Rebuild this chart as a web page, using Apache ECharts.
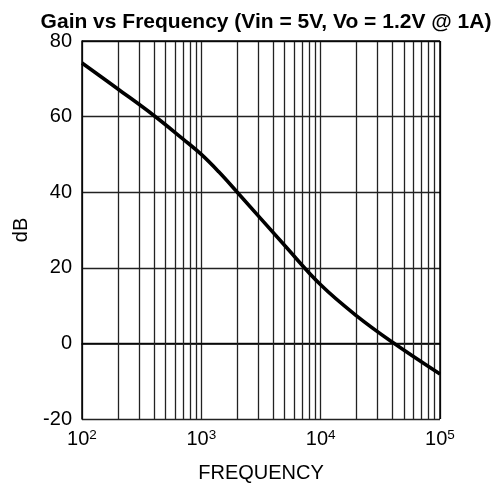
<!DOCTYPE html>
<html>
<head>
<meta charset="utf-8">
<script src="https://cdn.jsdelivr.net/npm/echarts@6/dist/echarts.min.js"></script>
<style>
html,body{margin:0;padding:0;background:#fff;}
#c{width:497px;height:485px;}
</style>
</head>
<body>
<div id="c"></div>
<script>
var titleText = 'Gain vs Frequency (Vin = 5V, Vo = 1.2V @ 1A)';
var xName = 'FREQUENCY';
var yName = 'dB';
var freqs = [100, 200, 400, 700, 1000, 1400, 2000, 5000, 10000, 20000, 40000, 100000];
var gainDb = [74.2, 67.3, 60.3, 54.1, 50.0, 45.4, 40.0, 25.9, 15.5, 7.3, 0.3, -8.1];
var minorFreqs = [200,300,400,500,600,700,800,900,2000,3000,4000,5000,6000,7000,8000,9000,20000,30000,40000,50000,60000,70000,80000,90000];
var yMin = -20, yMax = 80, yStep = 20;

var chart = echarts.init(document.getElementById('c'));
var font = 'Liberation Sans, Arial, sans-serif';
chart.setOption({
  animation: false,
  title: {
    text: titleText, left: 261, top: 7, textAlign: 'center',
    textStyle: {fontFamily: font, fontSize: 21, fontWeight: 'bold', color: '#000'}
  },
  grid: {left: 82, right: 57, top: 41, bottom: 66, containLabel: false, outerBoundsMode: 'none'},
  xAxis: {
    type: 'log', logBase: 10, min: 100, max: 100000,
    name: xName, nameLocation: 'middle', nameGap: 44,
    nameTextStyle: {fontFamily: font, fontSize: 20, color: '#000'},
    axisLine: {show: true, lineStyle: {color: '#000', width: 1.5}},
    axisTick: {show: false},
    splitLine: {show: true, lineStyle: {color: '#222', width: 1.3}},
    minorTick: {show: false}, minorSplitLine: {show: false},
    axisLabel: {
      margin: 9,
      formatter: function (v) {
        var e = Math.round(Math.log10(v));
        return '{b|10}{s|' + e + '}';
      },
      rich: {
        b: {fontFamily: font, fontSize: 20, color: '#000', lineHeight: 22},
        s: {fontFamily: font, fontSize: 13.5, color: '#000', verticalAlign: 'top', lineHeight: 14}
      }
    }
  },
  yAxis: {
    type: 'value', min: yMin, max: yMax, interval: yStep,
    name: yName, nameLocation: 'middle', nameGap: 51, nameRotate: 90,
    nameTextStyle: {fontFamily: font, fontSize: 20, color: '#000'},
    axisLine: {show: true, lineStyle: {color: '#000', width: 1.5}},
    axisTick: {show: false},
    splitLine: {show: true, lineStyle: {color: '#222', width: 1.3}},
    axisLabel: {margin: 10, fontFamily: font, fontSize: 20, color: '#000'}
  },
  series: [
    {
      type: 'line', data: [], z: 1,
      markLine: {
        silent: true, symbol: 'none', animation: false,
        label: {show: false},
        lineStyle: {color: '#222', width: 1.3, type: 'solid'},
        data: minorFreqs.map(function (f) { return {xAxis: f}; })
      }
    },
    {
      type: 'line', z: 5,
      data: freqs.map(function (f, i) { return [f, gainDb[i]]; }),
      smooth: 0.4, showSymbol: false, symbol: 'none',
      lineStyle: {color: '#000', width: 3.6}
    },
    {
      type: 'line', data: [], z: 6,
      markLine: {
        silent: true, symbol: 'none', animation: false,
        label: {show: false},
        lineStyle: {color: '#000', width: 1.5, type: 'solid'},
        data: [{yAxis: yMax}, {xAxis: 100000}]
      }
    }
  ]
});
</script>
</body>
</html>
